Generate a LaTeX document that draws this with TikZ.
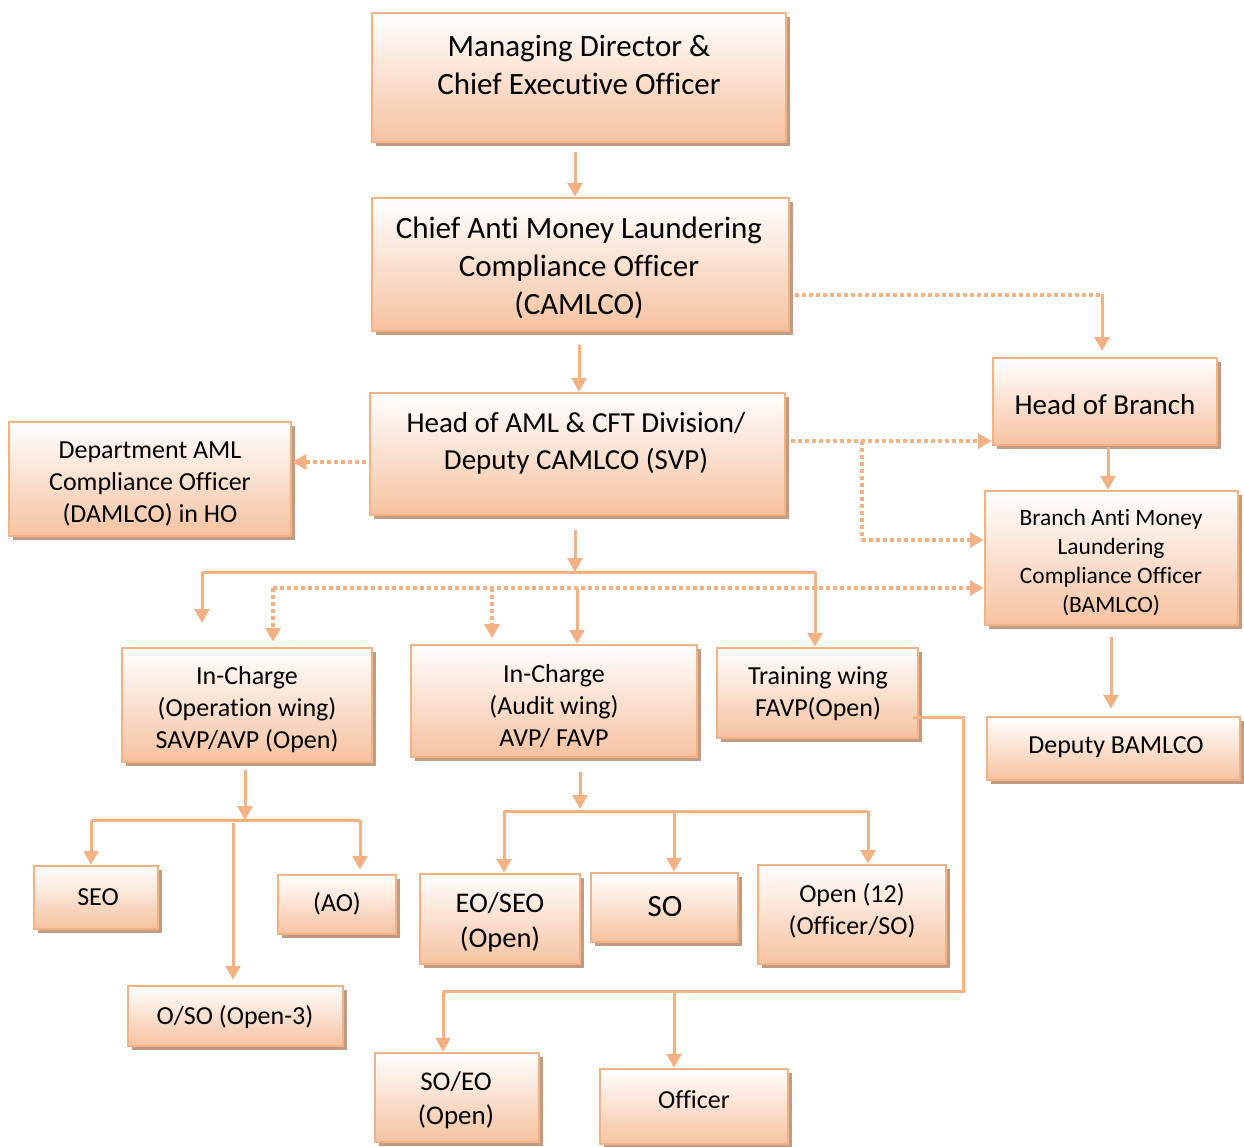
\documentclass[tikz,border=0pt]{standalone}
\usepackage{fontspec}
\setmainfont[Ligatures={NoCommon}]{Carlito}
\usetikzlibrary{arrows.meta,shadows,fit,calc}
\definecolor{bord}{HTML}{F4B183}
\definecolor{peach}{HTML}{F6C2A0}
\definecolor{shad}{HTML}{C29C82}
\tikzset{
 box/.style={draw=bord, line width=2.5pt, top color=white, bottom color=peach, inner sep=0pt,
   drop shadow={shadow xshift=4pt, shadow yshift=-4pt, fill=shad, opacity=1}},
 txt/.style={align=center, inner sep=0pt, text=black, yshift=-2pt},
 ln/.style={draw=bord, line width=3pt},
 arr/.style={ln, -{Triangle[length=14pt,width=15pt]}},
 darr/.style={draw=bord, line width=3.5pt, dash pattern=on 4pt off 3pt, -{Triangle[length=14pt,width=15pt]}},
 dln/.style={draw=bord, line width=3.5pt, dash pattern=on 4pt off 3pt},
 fA/.style={font=\fontsize{31}{38}\selectfont},
 fB/.style={font=\fontsize{29}{37}\selectfont},
 fC/.style={font=\fontsize{26}{32}\selectfont},
 fD/.style={font=\fontsize{23.5}{29}\selectfont},
}
\begin{document}
\begin{tikzpicture}[x=1pt,y=-1pt]
\useasboundingbox (0,0) rectangle (1244,1146);
% boxes
\node[box, fit={(372,13)(786,142)}] (md) {};
\node[box, fit={(372,198)(789,331)}] (cam) {};
\node[box, fit={(370,393)(785,515)}] (aml) {};
\node[box, fit={(9,422)(291,536)}] (dam) {};
\node[box, fit={(993,358)(1217,445)}] (hob) {};
\node[box, fit={(985,491)(1238,625)}] (bam) {};
\node[box, fit={(987,717)(1240,780)}] (dbam) {};
\node[box, fit={(122,648)(372,762)}] (ops) {};
\node[box, fit={(411,645)(697,757)}] (aud) {};
\node[box, fit={(717,648)(918,738)}] (trn) {};
\node[box, fit={(34,866)(158,929)}] (seo) {};
\node[box, fit={(278,875)(396,934)}] (ao) {};
\node[box, fit={(128,986)(343,1046)}] (oso) {};
\node[box, fit={(420,874)(580,964)}] (eoseo) {};
\node[box, fit={(591,873)(738,942)}] (so) {};
\node[box, fit={(758,865)(946,964)}] (open) {};
\node[box, fit={(375,1053)(539,1142)}] (soeo) {};
\node[box, fit={(600,1069)(788,1144)}] (off) {};
% texts
\node[txt,fA] (mdt) at (579,63) {Managing Director \&\\Chief Executive Officer};
\node[txt,fA] (camt) at (579,266) {Chief Anti Money Laundering\\Compliance Officer\\(CAMLCO)};
\node[txt,fB] (amlt) at (576,441) {Head of AML \& CFT Division/\\Deputy CAMLCO (SVP)};
\node[txt,fC] (damt) at (150,482) {Department AML\\Compliance Officer\\(DAMLCO) in HO};
\node[txt,fB] (hobt) at (1105,403) {Head of Branch};
\node[txt,fD] (bamt) at (1111,560) {Branch Anti Money\\Laundering\\Compliance Officer\\(BAMLCO)};
\node[txt,fC] (dbamt) at (1116,745) {Deputy BAMLCO};
\node[txt,fC] (opst) at (247,708) {In-Charge\\(Operation wing)\\SAVP/AVP (Open)};
\node[txt,fC] (audt) at (554,704) {In-Charge\\(Audit wing)\\AVP/ FAVP};
\node[txt,fC] (trnt) at (818,692) {Training wing\\FAVP(Open)};
\node[txt,fC] (seot) at (98,895) {SEO};
\node[txt,fC] (aot) at (337,902) {(AO)};
\node[txt,fC] (osot) at (235,1015) {O/SO (Open-3)};
\node[txt,font=\fontsize{28.5}{35}\selectfont] (eoseot) at (500,920) {EO/SEO\\(Open)};
\node[txt,fA] (sot) at (665,905) {SO};
\node[txt,fC] (opent) at (852,909) {Open (12)\\(Officer/SO)};
\node[txt,font=\fontsize{27}{34}\selectfont] (soeot) at (456,1098) {SO/EO\\(Open)};
\node[txt,fC] (offt) at (694,1098) {Officer};
% coordinates
\coordinate (c1) at (575,152);
\coordinate (c2) at (579,345);
\coordinate (d1) at (795,295);
\coordinate (d1c) at (1102,295);
\coordinate (d1e) at (1102,351);
\coordinate (d2) at (366,462);
\coordinate (d3) at (791,441);
\coordinate (d4) at (862,441);
\coordinate (d4b) at (862,540);
\coordinate (c3) at (1108,447);
\coordinate (c4) at (575,530);
\coordinate (j1) at (575,572);
\coordinate (h1l) at (202,572);
\coordinate (h1r) at (815,572);
\coordinate (h1le) at (202,623);
\coordinate (d5l) at (273,588);
\coordinate (d5m) at (492,588);
\coordinate (d5me) at (492,638);
\coordinate (d5s) at (577,588);
\coordinate (c5) at (245,770);
\coordinate (j2) at (245,820);
\coordinate (h2l) at (91,820);
\coordinate (h2r) at (360,820);
\coordinate (c6) at (233,823);
\coordinate (c7) at (580,772);
\coordinate (j3) at (580,809);
\coordinate (h3l) at (504,811);
\coordinate (h3m) at (674,811);
\coordinate (h3r) at (868,811);
\coordinate (t1) at (963,717);
\coordinate (t2) at (963,991);
\coordinate (t3) at (443,991);
\coordinate (t4) at (674,991);
\coordinate (c8) at (1111,637);
% connectors
\draw[arr] (c1) -- (c1 |- cam.north);
\draw[arr] (c2) -- (c2 |- aml.north);
\draw[dln] (d1) -- (d1c);
\draw[arr] ([yshift=1.5pt]d1c) -- (d1e);
\draw[darr] (d2) -- (d2 -| dam.east);
\draw[darr] (d3) -- (d3 -| hob.west);
\draw[dln] (d4) -- (d4b);
\draw[darr] (d4b) -- (d4b -| bam.west);
\draw[arr] (c3) -- (c3 |- bam.north);
\draw[arr] (c4) -- (j1);
\draw[ln] (h1l) -- (h1r);
\draw[arr] (h1l) -- (h1le);
\draw[arr] (h1r) -- (h1r |- trn.north);
\draw[darr] (d5l) -- (d5l -| bam.west);
\draw[darr, shorten >=5pt] (d5l) -- (d5l |- ops.north);
\draw[darr] (d5m) -- (d5me);
\draw[arr] (d5s) -- (d5s |- aud.north);
\draw[arr] (c5) -- (j2);
\draw[ln] (h2l) -- (h2r);
\draw[arr] (h2l) -- (h2l |- seo.north);
\draw[arr, shorten >=4pt] (h2r) -- (h2r |- ao.north);
\draw[arr, shorten >=5pt] (c6) -- (c6 |- oso.north);
\draw[arr] (c7) -- (j3);
\draw[ln] (h3l) -- (h3r);
\draw[arr] (h3l) -- (h3l |- eoseo.north);
\draw[arr] (h3m) -- (h3m |- so.north);
\draw[arr] (h3r) -- (h3r |- open.north);
\draw[ln] ([xshift=-6pt]trn.east |- t1) -- (t1) -- (t2) -- (t3);
\draw[arr] (t3) -- (t3 |- soeo.north);
\draw[arr] (t4) -- (t4 |- off.north);
\draw[arr, shorten >=7pt] (c8) -- (c8 |- dbam.north);
\end{tikzpicture}
\end{document}
